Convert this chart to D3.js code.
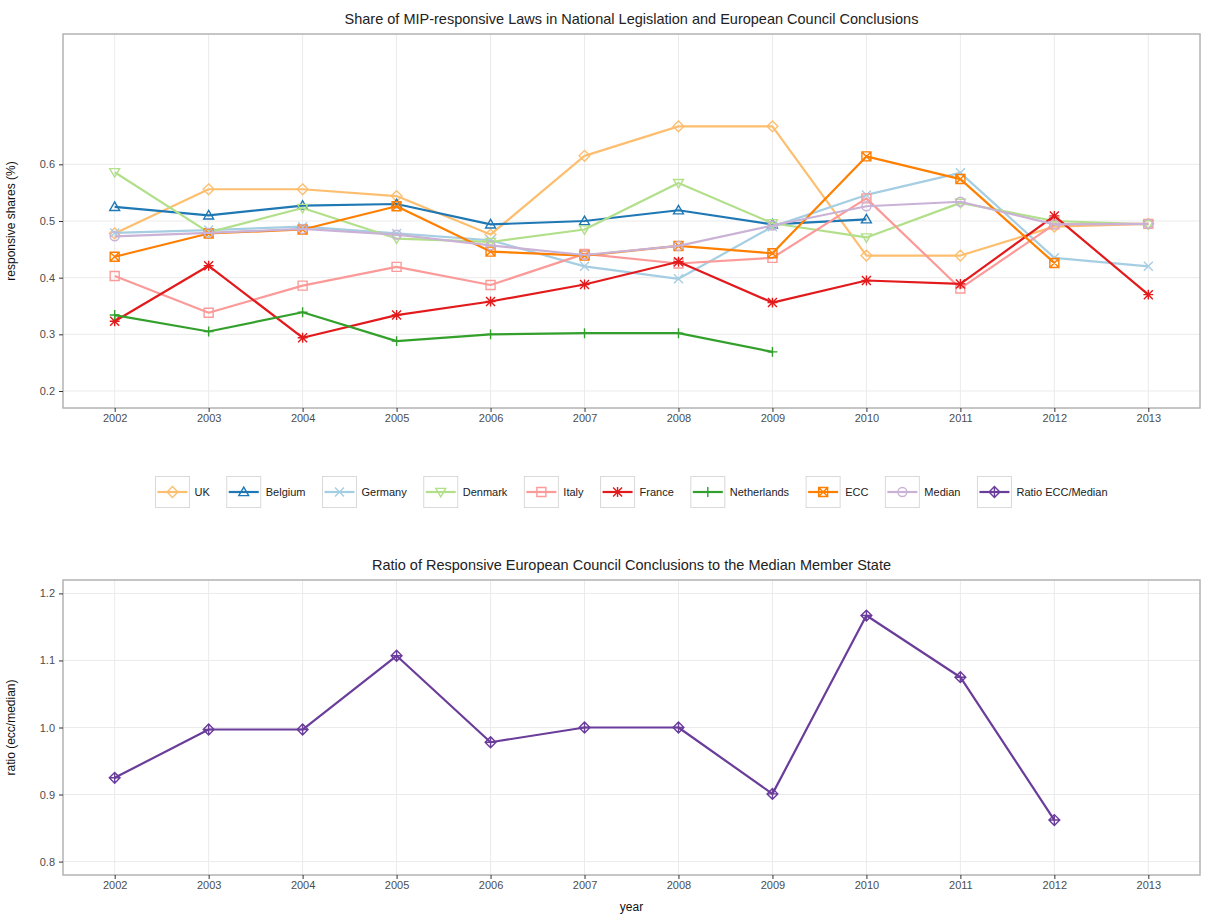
<!DOCTYPE html>
<html>
<head>
<meta charset="utf-8">
<script src="https://cdn.jsdelivr.net/npm/d3@7"></script>
<style>
    body { margin: 0; background: #fff; }
    text { font-family: "Liberation Sans", Arial, sans-serif; }
</style>
</head>
<body>
<svg id="chart" width="1208" height="921"></svg>
<script>
'use strict';

var years = [2002, 2003, 2004, 2005, 2006, 2007, 2008, 2009, 2010, 2011, 2012, 2013];

// shares per series (null = no value that year)
var uk          = [0.478, 0.556, 0.556, 0.544, 0.476, 0.615, 0.667, 0.667, 0.439, 0.439, 0.490, 0.495];
var belgium     = [0.525, 0.510, 0.527, 0.530, 0.494, 0.500, 0.519, 0.494, 0.503, null, null, null];
var germany     = [0.479, 0.484, 0.490, 0.478, 0.466, 0.420, 0.398, 0.490, 0.546, 0.585, 0.435, 0.420];
var denmark     = [0.586, 0.480, 0.523, 0.469, 0.463, 0.485, 0.567, 0.496, 0.471, 0.532, 0.500, 0.494];
var italy       = [0.403, 0.338, 0.386, 0.419, 0.387, 0.442, 0.425, 0.435, 0.540, 0.381, 0.494, 0.495];
var france      = [0.323, 0.421, 0.294, 0.334, 0.358, 0.388, 0.428, 0.356, 0.395, 0.389, 0.509, 0.370];
var netherlands = [0.334, 0.305, 0.339, 0.288, 0.300, 0.302, 0.302, 0.269, null, null, null, null];
var ecc         = [0.437, 0.478, 0.485, 0.526, 0.446, 0.439, 0.456, 0.443, 0.614, 0.574, 0.426, null];
var median      = [0.473, 0.479, 0.486, 0.476, 0.457, 0.440, 0.456, 0.492, 0.526, 0.534, 0.494, 0.495];
var ratio       = [0.925, 0.997, 0.997, 1.107, 0.978, 1.000, 1.000, 0.901, 1.167, 1.075, 0.862, null];

var seriesNames = ['UK', 'Belgium', 'Germany', 'Denmark', 'Italy', 'France', 'Netherlands', 'ECC', 'Median', 'Ratio ECC/Median'];
var topTicks = [0.2, 0.3, 0.4, 0.5, 0.6];
var bottomTicks = [0.8, 0.9, 1.0, 1.1, 1.2];

var colors = ['#FDBF6F', '#1F78B4', '#A6CEE3', '#B2DF8A', '#FB9A99', '#E31A1C', '#33A02C', '#FF7F00', '#CAB2D6', '#6A3D9A'];
var shapes = [5, 2, 4, 6, 0, 8, 3, 7, 1, 9];

var svg = d3.select('#chart');
var left = 63, right = 1200;

var x = d3.scaleLinear().domain([2001.45, 2013.55]).range([left, right]);

// draws a ggplot-like point shape (0..9) centred at 0,0
function drawShape(g, code, color) {
    var s = 4.5;
    var p = d3.path();
    if (code === 0 || code === 7) { p.rect(-s, -s, 2 * s, 2 * s); }
    if (code === 1) { p.arc(0, 0, s, 0, 2 * Math.PI); }
    if (code === 2) { p.moveTo(0, -s * 1.1); p.lineTo(s * 1.1, s * 0.8); p.lineTo(-s * 1.1, s * 0.8); p.closePath(); }
    if (code === 6) { p.moveTo(0, s * 1.1); p.lineTo(s * 1.1, -s * 0.8); p.lineTo(-s * 1.1, -s * 0.8); p.closePath(); }
    if (code === 5 || code === 9) { p.moveTo(0, -s * 1.2); p.lineTo(s * 1.2, 0); p.lineTo(0, s * 1.2); p.lineTo(-s * 1.2, 0); p.closePath(); }
    if (code === 3 || code === 8 || code === 9) { var q = code === 9 ? 1.2 : 1.1; p.moveTo(-s * q, 0); p.lineTo(s * q, 0); p.moveTo(0, -s * q); p.lineTo(0, s * q); }
    if (code === 4 || code === 7 || code === 8) { p.moveTo(-s, -s); p.lineTo(s, s); p.moveTo(-s, s); p.lineTo(s, -s); }
    g.append('path').attr('d', p.toString())
        .attr('fill', 'none').attr('stroke', color).attr('stroke-width', 1.4);
}

function drawPanel(opts) {
    var y = d3.scaleLinear().domain(opts.domain).range([opts.bottom, opts.top]);
    var g = svg.append('g');

    // grid
    g.selectAll('line.vgrid').data(years).enter().append('line')
        .attr('x1', function(d) { return x(d); }).attr('x2', function(d) { return x(d); })
        .attr('y1', opts.top).attr('y2', opts.bottom)
        .attr('stroke', '#ebebeb').attr('stroke-width', 1);
    g.selectAll('line.hgrid').data(opts.ticks).enter().append('line')
        .attr('x1', left).attr('x2', right)
        .attr('y1', function(d) { return y(d); }).attr('y2', function(d) { return y(d); })
        .attr('stroke', '#ebebeb').attr('stroke-width', 1);

    // lines + points
    opts.series.forEach(function(s) {
        var pts = years.map(function(yr, i) { return {year: yr, v: s.values[i]}; })
            .filter(function(d) { return d.v !== null; });
        var line = d3.line().x(function(d) { return x(d.year); }).y(function(d) { return y(d.v); });
        g.append('path').datum(pts).attr('d', line)
            .attr('fill', 'none').attr('stroke', s.color).attr('stroke-width', 2.2)
            .attr('stroke-linejoin', 'round');
        pts.forEach(function(d) {
            var pg = g.append('g').attr('transform', 'translate(' + x(d.year) + ',' + y(d.v) + ')');
            drawShape(pg, s.shape, s.color);
        });
    });

    // border
    g.append('rect').attr('x', left).attr('y', opts.top)
        .attr('width', right - left).attr('height', opts.bottom - opts.top)
        .attr('fill', 'none').attr('stroke', '#b3b3b3').attr('stroke-width', 1.5);

    // axes
    var xa = g.append('g').attr('transform', 'translate(0,' + opts.bottom + ')')
        .call(d3.axisBottom(x).tickValues(years).tickFormat(d3.format('d')).tickSize(4).tickPadding(2));
    var ya = g.append('g').attr('transform', 'translate(' + left + ',0)')
        .call(d3.axisLeft(y).tickValues(opts.ticks).tickFormat(d3.format('.1f')).tickSize(4).tickPadding(4));
    [xa, ya].forEach(function(a) {
        a.select('.domain').remove();
        a.selectAll('.tick line').attr('stroke', '#333');
        a.selectAll('.tick text').attr('fill', '#4d4d4d').style('font-size', '11px');
    });

    svg.append('text').attr('x', (left + right) / 2).attr('y', opts.top - 10)
        .attr('text-anchor', 'middle').style('font-size', '14.5px').attr('fill', '#222')
        .text(opts.title);
    svg.append('text')
        .attr('transform', 'translate(15,' + (opts.top + opts.bottom) / 2 + ') rotate(-90)')
        .attr('text-anchor', 'middle').style('font-size', '12px').attr('fill', '#111')
        .text(opts.ylabel);
}

var topSeries = [uk, belgium, germany, denmark, italy, france, netherlands, ecc, median].map(function(v, i) {
    return {values: v, color: colors[i], shape: shapes[i]};
});

drawPanel({
    top: 34, bottom: 408, domain: [0.17, 0.83], ticks: topTicks,
    series: topSeries,
    title: 'Share of MIP-responsive Laws in National Legislation and European Council Conclusions',
    ylabel: 'responsive shares (%)'
});

drawPanel({
    top: 580, bottom: 875, domain: [0.78, 1.22], ticks: bottomTicks,
    series: [{values: ratio, color: colors[9], shape: shapes[9]}],
    title: 'Ratio of Responsive European Council Conclusions to the Median Member State',
    ylabel: 'ratio (ecc/median)'
});

svg.append('text').attr('x', (left + right) / 2).attr('y', 911)
    .attr('text-anchor', 'middle').style('font-size', '12px').attr('fill', '#111')
    .text('year');

// legend
var keyW = 34, keyH = 31, legY = 492, gap = 17;
var leg = svg.append('g');
var items = leg.selectAll('g').data(seriesNames).enter().append('g');
items.append('rect').attr('x', 0).attr('y', -keyH / 2).attr('width', keyW).attr('height', keyH)
    .attr('fill', '#fff').attr('stroke', '#d9d9d9').attr('stroke-width', 1);
items.append('line').attr('x1', 2).attr('x2', keyW - 2).attr('y1', 0).attr('y2', 0)
    .attr('stroke', function(d, i) { return colors[i]; }).attr('stroke-width', 2.2);
items.each(function(d, i) {
    var kg = d3.select(this).append('g').attr('transform', 'translate(' + keyW / 2 + ',0)');
    drawShape(kg, shapes[i], colors[i]);
});
items.append('text').attr('x', keyW + 5).attr('y', 4)
    .style('font-size', '11px').attr('fill', '#222')
    .text(function(d) { return d; });

var pos = 0;
items.each(function() {
    var w = d3.select(this).select('text').node().getComputedTextLength();
    d3.select(this).attr('transform', 'translate(' + pos + ',' + legY + ')');
    pos += keyW + 5 + w + gap;
});
pos -= gap;
leg.attr('transform', 'translate(' + ((left + right) / 2 - pos / 2) + ',0)');
</script>
</body>
</html>
